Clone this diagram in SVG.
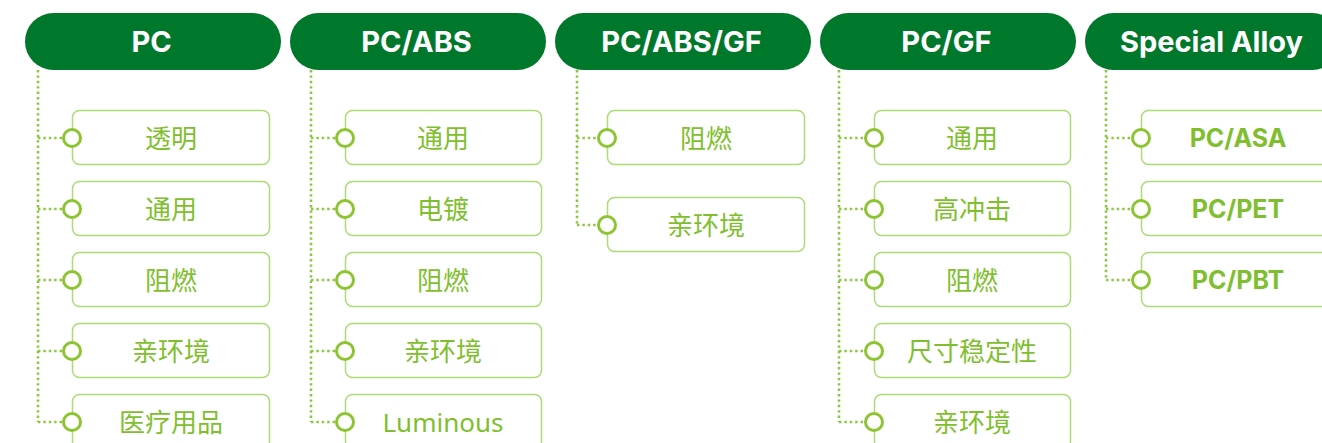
<svg xmlns="http://www.w3.org/2000/svg" width="1322" height="443" viewBox="0 0 1322 443">
<style>
.hdr{fill:#00782c}
.ht{fill:#fff;font-family:"Inter","Roboto","Liberation Sans",sans-serif;font-weight:700;font-size:29px;text-anchor:middle;dominant-baseline:central}
.box{fill:#fff;stroke:#addb74;stroke-width:1.5}
.it{fill:#7fbf2f;font-family:"Noto Sans","Noto Sans CJK SC",sans-serif;font-size:26px;text-anchor:middle;dominant-baseline:central}
.itb{fill:#7fbf2f;font-family:"Inter","Roboto","Liberation Sans",sans-serif;font-weight:700;font-size:25px;text-anchor:middle;dominant-baseline:central}
.dot{fill:none;stroke:#8cc63f;stroke-width:2.6;stroke-dasharray:2.4 3}
.c{fill:#fff;stroke:#8cc432;stroke-width:3}
</style>
<rect width="1322" height="443" fill="#fff"/>
<g id="connectors">
<path class="dot" d="M38 70V422M38 138H63M38 209H63M38 280H63M38 351H63M38 422H63"/>
<path class="dot" d="M311 70V422M311 138H336M311 209H336M311 280H336M311 351H336M311 422H336"/>
<path class="dot" d="M577 70V225M577 138H598M577 225H598"/>
<path class="dot" d="M839 70V422M839 138H865M839 209H865M839 280H865M839 351H865M839 422H865"/>
<path class="dot" d="M1106 70V280M1106 138H1132M1106 209H1132M1106 280H1132"/>
</g>
<g id="h-pc"><rect class="hdr" x="25" y="13" width="256" height="57" rx="28.5"/><text class="ht" x="151.5" y="41">PC</text></g>
<g id="h-pcabs"><rect class="hdr" x="290" y="13" width="256" height="57" rx="28.5"/><text class="ht" x="416.5" y="41">PC/ABS</text></g>
<g id="h-pcabsgf"><rect class="hdr" x="555" y="13" width="256" height="57" rx="28.5"/><text class="ht" x="681.5" y="41">PC/ABS/GF</text></g>
<g id="h-pcgf"><rect class="hdr" x="820" y="13" width="256" height="57" rx="28.5"/><text class="ht" x="946.5" y="41">PC/GF</text></g>
<g id="h-special"><rect class="hdr" x="1085" y="13" width="256" height="57" rx="28.5"/><text class="ht" x="1211.5" y="41">Special Alloy</text></g>

<g id="pc-1"><rect class="box" x="72.5" y="110.5" width="197" height="54" rx="7"/><circle class="c" cx="72" cy="138" r="8.5"/><text class="it" x="171" y="138">透明</text></g>
<g id="pc-2"><rect class="box" x="72.5" y="181.5" width="197" height="54" rx="7"/><circle class="c" cx="72" cy="209" r="8.5"/><text class="it" x="171" y="209">通用</text></g>
<g id="pc-3"><rect class="box" x="72.5" y="252.5" width="197" height="54" rx="7"/><circle class="c" cx="72" cy="280" r="8.5"/><text class="it" x="171" y="280">阻燃</text></g>
<g id="pc-4"><rect class="box" x="72.5" y="323.5" width="197" height="54" rx="7"/><circle class="c" cx="72" cy="351" r="8.5"/><text class="it" x="171" y="351">亲环境</text></g>
<g id="pc-5"><rect class="box" x="72.5" y="394.5" width="197" height="54" rx="7"/><circle class="c" cx="72" cy="422" r="8.5"/><text class="it" x="171" y="422">医疗用品</text></g>

<g id="pcabs-1"><rect class="box" x="345.5" y="110.5" width="196" height="54" rx="7"/><circle class="c" cx="345" cy="138" r="8.5"/><text class="it" x="443" y="138">通用</text></g>
<g id="pcabs-2"><rect class="box" x="345.5" y="181.5" width="196" height="54" rx="7"/><circle class="c" cx="345" cy="209" r="8.5"/><text class="it" x="443" y="209">电镀</text></g>
<g id="pcabs-3"><rect class="box" x="345.5" y="252.5" width="196" height="54" rx="7"/><circle class="c" cx="345" cy="280" r="8.5"/><text class="it" x="443" y="280">阻燃</text></g>
<g id="pcabs-4"><rect class="box" x="345.5" y="323.5" width="196" height="54" rx="7"/><circle class="c" cx="345" cy="351" r="8.5"/><text class="it" x="443" y="351">亲环境</text></g>
<g id="pcabs-5"><rect class="box" x="345.5" y="394.5" width="196" height="54" rx="7"/><circle class="c" cx="345" cy="422" r="8.5"/><text class="it" x="443" y="422">Luminous</text></g>

<g id="pcabsgf-1"><rect class="box" x="607.5" y="110.5" width="197" height="54" rx="7"/><circle class="c" cx="607" cy="138" r="8.5"/><text class="it" x="706" y="138">阻燃</text></g>
<g id="pcabsgf-2"><rect class="box" x="607.5" y="197.5" width="197" height="54" rx="7"/><circle class="c" cx="607" cy="225" r="8.5"/><text class="it" x="706" y="225">亲环境</text></g>

<g id="pcgf-1"><rect class="box" x="874.5" y="110.5" width="196" height="54" rx="7"/><circle class="c" cx="874" cy="138" r="8.5"/><text class="it" x="972" y="138">通用</text></g>
<g id="pcgf-2"><rect class="box" x="874.5" y="181.5" width="196" height="54" rx="7"/><circle class="c" cx="874" cy="209" r="8.5"/><text class="it" x="972" y="209">高冲击</text></g>
<g id="pcgf-3"><rect class="box" x="874.5" y="252.5" width="196" height="54" rx="7"/><circle class="c" cx="874" cy="280" r="8.5"/><text class="it" x="972" y="280">阻燃</text></g>
<g id="pcgf-4"><rect class="box" x="874.5" y="323.5" width="196" height="54" rx="7"/><circle class="c" cx="874" cy="351" r="8.5"/><text class="it" x="972" y="351">尺寸稳定性</text></g>
<g id="pcgf-5"><rect class="box" x="874.5" y="394.5" width="196" height="54" rx="7"/><circle class="c" cx="874" cy="422" r="8.5"/><text class="it" x="972" y="422">亲环境</text></g>

<g id="sp-1"><rect class="box" x="1141.5" y="110.5" width="197" height="54" rx="7"/><circle class="c" cx="1141" cy="138" r="8.5"/><text class="itb" x="1238" y="138">PC/ASA</text></g>
<g id="sp-2"><rect class="box" x="1141.5" y="181.5" width="197" height="54" rx="7"/><circle class="c" cx="1141" cy="209" r="8.5"/><text class="itb" x="1238" y="209">PC/PET</text></g>
<g id="sp-3"><rect class="box" x="1141.5" y="252.5" width="197" height="54" rx="7"/><circle class="c" cx="1141" cy="280" r="8.5"/><text class="itb" x="1238" y="280">PC/PBT</text></g>
</svg>
